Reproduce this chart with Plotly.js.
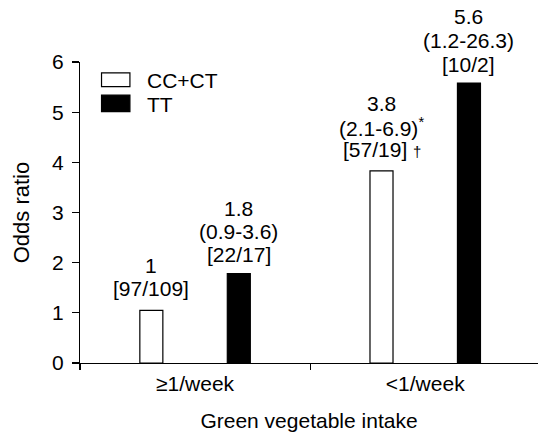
<!DOCTYPE html>
<html>
<head>
<meta charset="utf-8">
<script src="https://cdn.plot.ly/plotly-3.0.1.min.js"></script>
<style>html,body{margin:0;padding:0;background:#fff;}#chart{width:538px;height:435px;}</style>
</head>
<body>
<div id="chart"></div>
<script>
// ---- data ----
var categories = ["\u22651/week", "<1/week"];
var seriesNames = ["CC+CT", "TT"];
var ccctValues = [1.05, 3.83];
var ttValues = [1.78, 5.58];
var ccctLabelLines = [["1", "[97/109]"], ["3.8", "(2.1-6.9)<sup>*</sup>", "[57/19] <span style=\"font-size:15px\">\u2020</span>"]];
var ttLabelLines = [["1.8", "(0.9-3.6)", "[22/17]"], ["5.6", "(1.2-26.3)", "[10/2]"]];
var yTickVals = [0, 1, 2, 3, 4, 5, 6];
var yTitle = "Odds ratio";
var xTitle = "Green vegetable intake";

var FONT = "Liberation Sans, Arial, Helvetica, sans-serif";
var FS = 21;
var barW = 0.1, sep = 0.19;

var traces = [
  {type: "bar", name: seriesNames[0], x: categories, y: ccctValues,
   width: barW, offset: -sep - barW / 2,
   marker: {color: "#ffffff", line: {color: "#000000", width: 1.2}},
   hoverinfo: "none", showlegend: false},
  {type: "bar", name: seriesNames[1], x: categories, y: ttValues,
   width: barW, offset: sep - barW / 2,
   marker: {color: "#000000", line: {color: "#000000", width: 1.2}},
   hoverinfo: "none", showlegend: false}
];

var annotations = [];
function addLabel(xpos, yval, lines, gap, step) {
  var n = lines.length;
  for (var k = 0; k < n; k++) {
    annotations.push({x: xpos, y: yval, xref: "x", yref: "y", text: lines[k],
      showarrow: false, yanchor: "middle", xanchor: "center", align: "center",
      yshift: gap + (n - 1 - k) * step,
      font: {family: FONT, size: FS, color: "#000"}});
  }
}
var gapsA = [22, 21], gapsB = [19, 19];
var stepsA = [23, 23], stepsB = [23, 24];
for (var i = 0; i < categories.length; i++) {
  addLabel(i - sep, ccctValues[i], ccctLabelLines[i], gapsA[i], stepsA[i]);
  addLabel(i + sep, ttValues[i], ttLabelLines[i], gapsB[i], stepsB[i]);
}
// legend text
annotations.push({x: 0.142, y: 0.940, xref: "paper", yref: "paper", text: seriesNames[0], showarrow: false,
  xanchor: "left", yanchor: "middle", font: {family: FONT, size: FS, color: "#000"}});
annotations.push({x: 0.142, y: 0.860, xref: "paper", yref: "paper", text: seriesNames[1], showarrow: false,
  xanchor: "left", yanchor: "middle", font: {family: FONT, size: FS, color: "#000"}});

var shapes = [
  {type: "rect", xref: "paper", yref: "paper", x0: 0.047, x1: 0.109, y0: 0.918, y1: 0.964,
   fillcolor: "#ffffff", line: {color: "#000", width: 1.2}},
  {type: "rect", xref: "paper", yref: "paper", x0: 0.047, x1: 0.109, y0: 0.835, y1: 0.890,
   fillcolor: "#000000", line: {color: "#000", width: 1.2}}
];

var layout = {
  width: 538, height: 435,
  margin: {l: 80, r: 0, t: 62, b: 72, pad: 0},
  paper_bgcolor: "#ffffff", plot_bgcolor: "#ffffff",
  font: {family: FONT, color: "#000"},
  showlegend: false,
  xaxis: {
    type: "category", range: [-0.5, 1.49], showgrid: false, zeroline: false,
    showline: true, linecolor: "#000", linewidth: 1.2,
    ticks: "outside", tickson: "boundaries", ticklen: 6, tickcolor: "#000", tickwidth: 1.2,
    ticklabelstandoff: 2,
    tickfont: {family: FONT, size: FS, color: "#000"},
    title: {text: xTitle, font: {family: FONT, size: 21, color: "#000"}, standoff: 18},
    fixedrange: true, automargin: false
  },
  yaxis: {
    range: [0, 6], tickvals: yTickVals, showgrid: false, zeroline: false,
    showline: true, linecolor: "#000", linewidth: 1.2,
    ticks: "outside", ticklen: 7, tickcolor: "#000", tickwidth: 1.2,
    ticklabelstandoff: 4,
    tickfont: {family: FONT, size: FS, color: "#000"},
    title: {text: yTitle, font: {family: FONT, size: 22, color: "#000"}, standoff: 16},
    fixedrange: true, automargin: false
  },
  annotations: annotations,
  shapes: shapes
};

Plotly.newPlot("chart", traces, layout, {staticPlot: true, displayModeBar: false});
</script>
</body>
</html>
